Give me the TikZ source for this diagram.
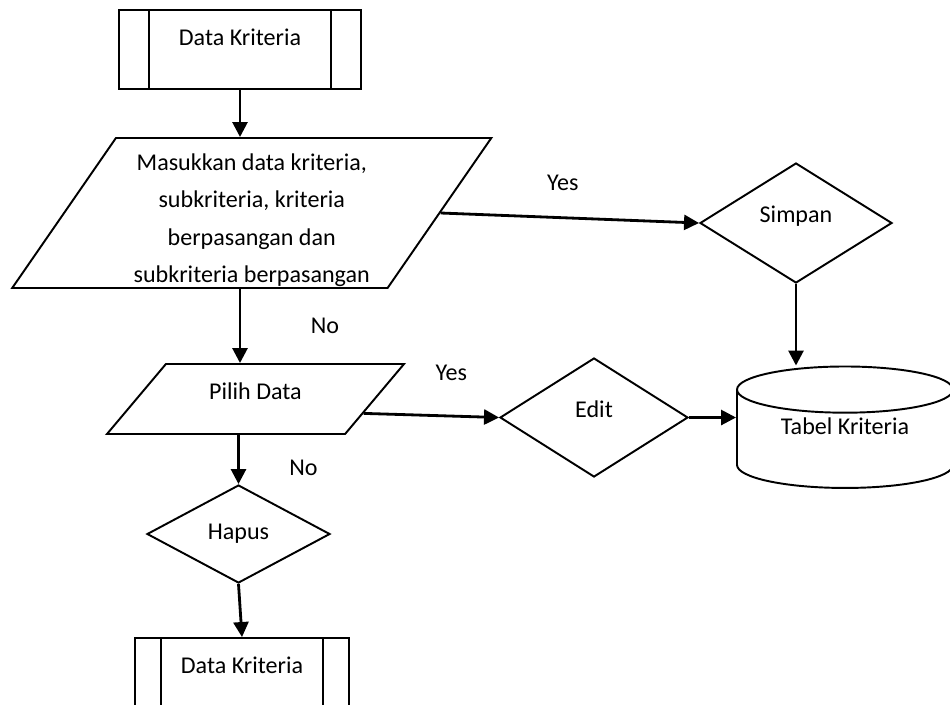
\documentclass[tikz,border=0pt]{standalone}
\usepackage{fontspec}
\setmainfont{Carlito}
\usetikzlibrary{positioning,calc,arrows.meta,shapes.geometric}

\tikzset{
  procbox/.style={draw, rectangle, line width=1.1pt, minimum height=1.58cm,
    text height=0.3cm, text depth=0.46cm,
    path picture={
      \draw[line width=1.1pt] ([xshift=#1]path picture bounding box.north west) -- ([xshift=#1]path picture bounding box.south west);
      \draw[line width=1.1pt] ([xshift=-#1]path picture bounding box.north east) -- ([xshift=-#1]path picture bounding box.south east);
    }},
  io/.style={draw, trapezium, trapezium stretches=true, line width=1.1pt},
  decision/.style={draw, diamond, inner sep=0pt, line width=1.1pt, text height=0.3cm, text depth=0.32cm},
  store/.style={draw, cylinder, shape border rotate=90, aspect=0.33, line width=1.1pt},
  flow/.style={-{Triangle[length=0.3cm,width=0.3cm]}, line width=1.6pt}
}

\begin{document}
\begin{tikzpicture}[font=\fontsize{13.7}{21.4}\selectfont]
\useasboundingbox (0,0) rectangle (19,-14.08);
\node [procbox=0.6cm, minimum width=4.84cm] (datatop) at (4.80,-0.99) {Data Kriteria};
\node [io, below of=datatop, node distance=3.27cm, xshift=0.235cm, trapezium left angle=57.4, trapezium right angle=122.6, minimum width=9.6cm, minimum height=3cm, inner ysep=0pt, align=center] (input) {\rule{0pt}{0.62cm}Masukkan data kriteria,\\ subkriteria, kriteria\\ berpasangan dan\\ subkriteria berpasangan};
\node [decision, right of=input, node distance=10.885cm, yshift=-0.2cm, minimum width=3.84cm, minimum height=2.4cm] (simpan) {Simpan};
\node [store, below of=simpan, node distance=4.40cm, xshift=0.98cm, minimum width=4.32cm, minimum height=2.18cm, text height=0.3cm, text depth=0.64cm] (tabel) {Tabel Kriteria};
\node [io, below of=input, node distance=3.72cm, xshift=0.075cm, trapezium left angle=49.9, trapezium right angle=130.1, minimum width=5.98cm, minimum height=1.4cm, text height=0.3cm, text depth=0.28cm] (pilih) {Pilih Data};
\node [decision, right of=pilih, node distance=6.77cm, yshift=-0.37cm, minimum width=3.76cm, minimum height=2.38cm] (edit) {Edit};
\node [decision, below of=pilih, node distance=2.7cm, xshift=-0.34cm, minimum width=3.66cm, minimum height=1.96cm, text depth=0.08cm] (hapus) {Hapus};
\node [procbox=0.52cm, below of=hapus, node distance=2.87cm, xshift=0.07cm, minimum width=4.28cm] (databot) {Data Kriteria};
\draw [flow] (datatop) -- (datatop |- input.north);
\draw [flow] (input.east) -- node[xshift=-0.14cm, yshift=0.7cm] {Yes} (simpan.west);
\draw [flow] (simpan.south) -- (simpan.south |- tabel.north);
\draw [flow] (datatop |- input.south) -- node[xshift=1.7cm] {No} (datatop |- pilih.north);
\draw [flow] ($(pilih.top right corner)!0.7!(pilih.bottom right corner)$) -- node[xshift=0.4cm, yshift=0.86cm] {Yes} (edit.west);
\draw [flow] (edit.east) -- (edit.east -| tabel.west);
\draw [flow] (hapus.north |- pilih.south) -- node[xshift=1.3cm, yshift=-0.17cm] {No} (hapus.north);
\draw [flow] (hapus.south) -- (databot.north);
\end{tikzpicture}
\end{document}
